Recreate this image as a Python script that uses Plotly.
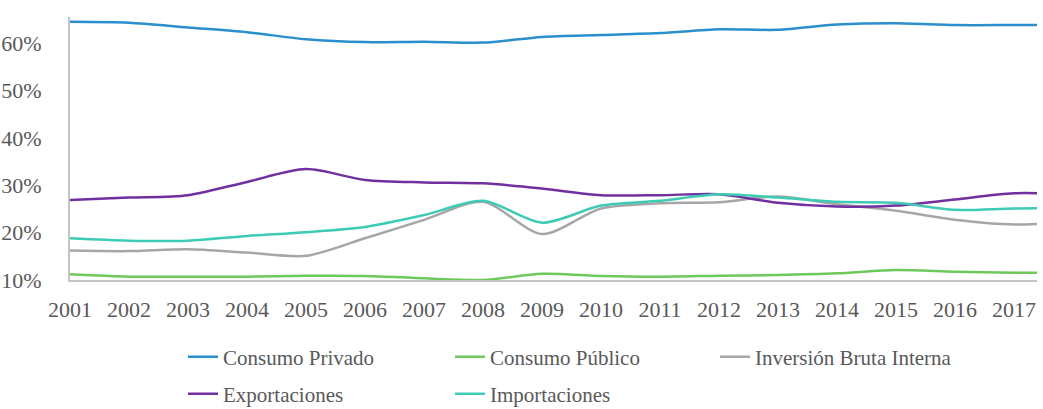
import plotly.graph_objects as go

# Years on the category axis (the series run a little past the last labelled year)
years = list(range(2001, 2019))
tick_years = list(range(2001, 2018))
tick_labels = [str(y) for y in tick_years]
y_ticks = [10, 20, 30, 40, 50, 60]
y_tick_labels = ["10%", "20%", "30%", "40%", "50%", "60%"]

# Shares of GDP (%)
consumo_privado = [64.5, 64.3, 63.3, 62.3, 60.8, 60.2, 60.3, 60.1, 61.3, 61.7,
                   62.1, 62.9, 62.8, 63.9, 64.2, 63.8, 63.8, 63.8]
consumo_publico = [11.2, 10.7, 10.7, 10.7, 10.9, 10.85, 10.35, 10.0, 11.3, 10.85,
                   10.7, 10.9, 11.05, 11.4, 12.1, 11.75, 11.55, 11.45]
inversion = [16.2, 16.1, 16.5, 15.8, 15.1, 18.8, 22.7, 26.5, 19.7, 25.1,
             26.2, 26.4, 27.6, 26.0, 24.6, 22.7, 21.7, 22.3]
exportaciones = [26.9, 27.4, 27.9, 30.7, 33.4, 31.1, 30.6, 30.4, 29.3, 27.9,
                 27.9, 28.1, 26.3, 25.5, 25.7, 27.0, 28.3, 28.1]
importaciones = [18.8, 18.3, 18.3, 19.3, 20.1, 21.2, 23.7, 26.7, 22.1, 25.7,
                 26.7, 28.1, 27.4, 26.5, 26.3, 24.8, 25.1, 25.1]

FONT = "Times New Roman"
TEXT_COLOR = "#595959"

# name, values, colour, legend id, legend left edge (px), legend row centre (px)
series = [
    ("Consumo Privado", consumo_privado, "#2a8fcc", "legend", 183, 357),
    ("Consumo Público", consumo_publico, "#6fc85c", "legend2", 450, 357),
    ("Inversión Bruta Interna", inversion, "#a6a6a6", "legend3", 715, 357),
    ("Exportaciones", exportaciones, "#7030a0", "legend4", 183, 394),
    ("Importaciones", importaciones, "#3ecbb5", "legend5", 450, 394),
]

W, H = 1043, 409
ML, MR, MT, MB = 70, 6, 17, 129

fig = go.Figure()
legends = {}
for name, vals, color, leg, lx, ly in series:
    fig.add_trace(go.Scatter(
        x=years, y=vals, name=name, mode="lines",
        line=dict(color=color, width=2.5, shape="spline", smoothing=0.8),
        legend=leg,
    ))
    legends[leg] = dict(
        xref="container", yref="container",
        x=lx / W, y=1 - ly / H,
        xanchor="left", yanchor="middle",
        font=dict(family=FONT, size=21, color=TEXT_COLOR),
        bgcolor="rgba(0,0,0,0)", borderwidth=0,
    )

fig.update_layout(
    width=W, height=H,
    margin=dict(l=ML, r=MR, t=MT, b=MB, autoexpand=False),
    paper_bgcolor="white", plot_bgcolor="white",
    showlegend=True,
    xaxis=dict(
        range=[2001, 2017.39], tickmode="array",
        tickvals=tick_years, ticktext=tick_labels,
        showgrid=False, zeroline=False, automargin=False,
        showline=True, linecolor="#c4c4c4", linewidth=2,
        ticks="", ticklabelstandoff=9,
        tickfont=dict(family=FONT, size=22, color=TEXT_COLOR),
    ),
    yaxis=dict(
        range=[10, 65.5], tickmode="array",
        tickvals=y_ticks, ticktext=y_tick_labels,
        showgrid=False, zeroline=False, automargin=False,
        showline=True, linecolor="#c4c4c4", linewidth=2,
        ticks="", ticklabelstandoff=22,
        tickfont=dict(family=FONT, size=22, color=TEXT_COLOR),
    ),
    **legends,
)

fig.write_html("out.html")
